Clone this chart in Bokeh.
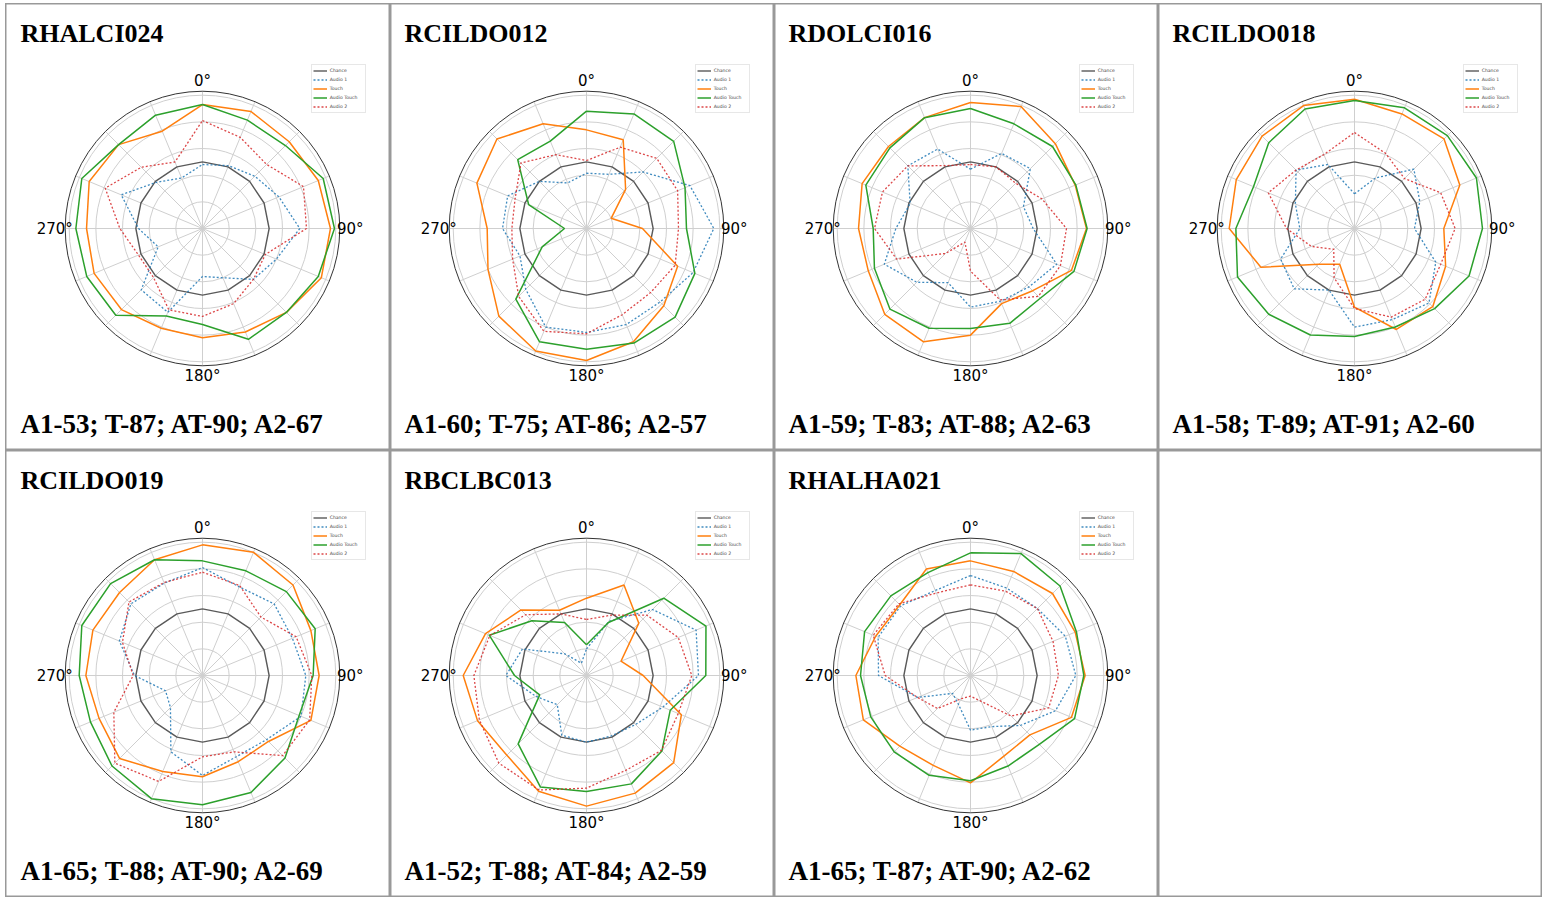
import numpy as np
from bokeh.plotting import figure
from bokeh.layouts import column, row
from bokeh.models import Legend, LegendItem, Label, Range1d
from bokeh.core.properties import value
from bokeh.embed import file_html
from bokeh.resources import INLINE

# ---------------- data ----------------
angles_deg = [0, 22.5, 45, 67.5, 90, 112.5, 135, 157.5,
              180, 202.5, 225, 247.5, 270, 292.5, 315, 337.5]
subjects = ["RHALCI024", "RCILDO012", "RDOLCI016", "RCILDO018",
            "RCILDO019", "RBCLBC013", "RHALHA021"]
scores = ["A1-53; T-87; AT-90; A2-67", "A1-60; T-75; AT-86; A2-57",
          "A1-59; T-83; AT-88; A2-63", "A1-58; T-89; AT-91; A2-60",
          "A1-65; T-88; AT-90; A2-69", "A1-52; T-88; AT-84; A2-59",
          "A1-65; T-87; AT-90; A2-62"]
series_names = ["Chance", "Audio 1", "Touch", "Audio Touch", "Audio 2"]
chance = [0.5] * 16

audio1 = [
    [.48, .51, .555, .62, .73, .60, .54, .40, .36, .68, .65, .36, .48, .66, .49, .41],
    [.415, .44, .60, .84, .955, .865, .78, .78, .78, .80, .645, .54, .63, .64, .50, .37],
    [.445, .61, .635, .43, .47, .70, .62, .59, .59, .44, .57, .70, .56, .49, .665, .645],
    [.26, .41, .63, .53, .45, .66, .79, .74, .74, .50, .64, .60, .41, .48, .62, .52],
    [.81, .72, .76, .73, .775, .80, .68, .66, .75, .62, .34, .30, .51, .675, .76, .75],
    [.20, .44, .70, .89, .84, .62, .52, .49, .50, .485, .31, .41, .605, .52, .23, .10],
    [.75, .71, .71, .77, .79, .69, .53, .415, .41, .235, .19, .43, .69, .75, .74, .69],
]
touch = [
    [.93, .95, .92, .94, .96, .965, .89, .84, .82, .81, .86, .88, .87, .92, .89, .79],
    [.74, .72, .415, .20, .42, .74, .82, .92, .99, .995, .93, .80, .745, .89, .95, .85],
    [.945, .99, .90, .85, .87, .82, .66, .61, .80, .92, .91, .83, .84, .88, .87, .90],
    [.97, .93, .95, .855, .67, .74, .83, .82, .59, .29, .38, .76, .94, .96, .98, .998],
    [.98, 1.0, .96, .88, .875, .88, .70, .70, .76, .78, .88, .84, .875, .89, .88, .94],
    [.58, .735, .555, .28, .425, .77, .925, .955, .98, .94, .845, .885, .925, .82, .695, .53],
    [.86, .845, .87, .85, .86, .82, .63, .655, .805, .73, .75, .87, .86, .77, .75, .865],
]
audio_touch = [
    [.93, .88, .88, .98, .99, .94, .89, .90, .72, .71, .92, .94, .95, .98, .89, .92],
    [.88, .93, .925, .80, .75, .88, .94, .93, .905, .92, .75, .36, .165, .47, .73, .71],
    [.90, .85, .87, .855, .875, .84, .74, .77, .75, .81, .855, .78, .73, .85, .855, .90],
    [.96, .98, .985, .99, .96, .93, .85, .80, .81, .865, .91, .95, .89, .82, .91, .97],
    [.86, .85, .89, .915, .83, .785, .875, .95, .97, 1.0, .96, .91, .925, .98, .975, .94],
    [.23, .43, .82, .97, .895, .68, .80, .88, .87, .905, .725, .38, .54, .79, .58, .43],
    [.92, .99, .95, .86, .85, .845, .73, .735, .79, .81, .81, .81, .825, .86, .845, .835],
]
audio2 = [
    [.81, .74, .68, .82, .78, .51, .54, .61, .66, .66, .52, .52, .62, .79, .65, .54],
    [.51, .66, .745, .74, .69, .72, .68, .70, .79, .835, .72, .60, .56, .58, .695, .60],
    [.48, .50, .48, .58, .72, .73, .72, .58, .32, .11, .265, .60, .72, .715, .665, .51],
    [.72, .61, .53, .70, .755, .70, .75, .72, .60, .40, .22, .35, .51, .70, .62, .60],
    [.775, .73, .62, .76, .82, .87, .85, .62, .61, .86, .93, .72, .52, .65, .78, .755],
    [.42, .49, .64, .745, .79, .745, .795, .77, .845, .93, .93, .87, .845, .785, .645, .50],
    [.68, .685, .71, .67, .66, .635, .43, .21, .155, .19, .35, .43, .64, .79, .76, .67],
]
grid_r = [0.2, 0.4, 0.6, 0.8, 1.0]
tick_labels = ["0°", "90°", "180°", "270°"]
tick_angles = [0, 90, 180, 270]

# ---------------- style / layout ----------------
S = 133.3          # px per unit radius
RMAX = 1.03
col_w = [385, 384, 384, 384]
row_h = [447, 447]
cx_rel = [197, 196, 196, 196]
cy_rel = [225, 225]
styles = [
    dict(line_color="#5a5a5a", line_width=1.4),
    dict(line_color="#1f77b4", line_width=1.3, line_dash="2 2", line_alpha=0.85),
    dict(line_color="#ff7f0e", line_width=1.5),
    dict(line_color="#2ca02c", line_width=1.5),
    dict(line_color="#d62728", line_width=1.3, line_dash="2 2", line_alpha=0.85),
]


def base_fig(W, H, cx, cy):
    p = figure(width=W, height=H,
               x_range=Range1d(-cx / S, (W - cx) / S),
               y_range=Range1d(-(H - cy) / S, cy / S),
               x_axis_type=None, y_axis_type=None,
               output_backend="svg", toolbar_location=None, tools="",
               min_border=0)
    p.outline_line_color = "#999999"
    p.outline_line_width = 2
    p.background_fill_color = "white"
    p.border_fill_color = "white"
    return p


def polar_xy(vals):
    th = np.radians(angles_deg + [angles_deg[0]])
    r = np.array(list(vals) + [vals[0]])
    return r * np.sin(th), r * np.cos(th)


figs = []
for i in range(8):
    ri, ci = divmod(i, 4)
    W, H = col_w[ci], row_h[ri]
    cx, cy = cx_rel[ci], cy_rel[ri]
    p = base_fig(W, H, cx, cy)
    if i < 7:
        p.circle(x=[0] * len(grid_r), y=[0] * len(grid_r), radius=grid_r,
                 fill_color=None, line_color="#cfcfcf", line_width=1)
        th = np.radians(angles_deg)
        p.segment(x0=[0] * 16, y0=[0] * 16, x1=list(RMAX * np.sin(th)),
                  y1=list(RMAX * np.cos(th)), line_color="#cfcfcf", line_width=1)
        p.circle(x=[0], y=[0], radius=[RMAX], fill_color=None,
                 line_color="#333333", line_width=1)
        data = [chance, audio1[i], touch[i], audio_touch[i], audio2[i]]
        items = []
        for name, vals, st in zip(series_names, data, styles):
            xs, ys = polar_xy(vals)
            rr = p.line(list(xs), list(ys), **st)
            items.append(LegendItem(label=name, renderers=[rr]))
        RL = RMAX + 10.5 / S
        ta = np.radians(tick_angles)
        p.text(x=list(RL * np.sin(ta)), y=list(RL * np.cos(ta)), text=tick_labels,
               text_align="center", text_baseline="middle",
               text_font=value("DejaVu Sans"), text_font_size="15px",
               text_color="black")
        lx = cx + 108.7
        ltop = cy - 162.3
        leg = Legend(items=items, location=(lx, H - ltop - 47),
                     padding=1, spacing=0, margin=0,
                     glyph_width=14, glyph_height=9, label_height=9,
                     label_width=34, label_standoff=3,
                     label_text_font="DejaVu Sans", label_text_font_size="4.6px",
                     border_line_color="#d0d0d0", border_line_width=1,
                     background_fill_color="white", background_fill_alpha=0.8)
        p.add_layout(leg)
        tx = 15 if ci == 0 else 14
        p.add_layout(Label(x=tx, y=H - 30, x_units="screen",
                           y_units="screen", text=subjects[i],
                           text_font="Liberation Serif", text_font_style="bold",
                           text_font_size="26px", text_baseline="middle",
                           text_color="black"))
        p.add_layout(Label(x=tx, y=H - 420.5, x_units="screen", y_units="screen",
                           text=scores[i], text_font="Liberation Serif",
                           text_font_style="bold", text_font_size="27px",
                           text_baseline="middle", text_color="black"))
    figs.append(p)

layout = column(row(*figs[:4]), row(*figs[4:]), margin=(3, 0, 0, 5))
open("out.html", "w").write(file_html(layout, INLINE))
